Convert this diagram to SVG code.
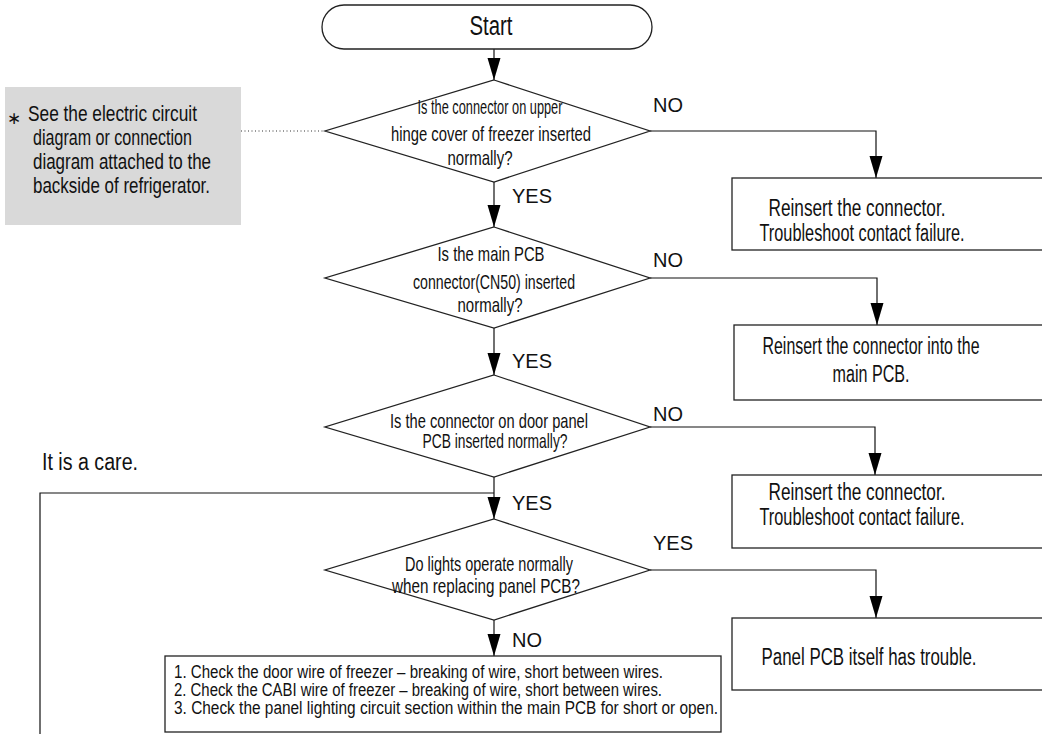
<svg xmlns="http://www.w3.org/2000/svg" width="1042" height="734" viewBox="0 0 1042 734">
<style>
.t{font-family:"Liberation Sans",Arial,sans-serif;fill:#111;}
.c{font-family:"Liberation Sans",Arial,sans-serif;fill:#111;text-anchor:middle;}
.lbl{font-family:"Liberation Sans",Arial,sans-serif;font-size:20px;fill:#111;}
.shape{fill:#fff;stroke:#222;stroke-width:1.3;}
.ln{fill:none;stroke:#111;stroke-width:1.2;}
</style>
<defs>
<marker id="ah" markerUnits="userSpaceOnUse" markerWidth="24" markerHeight="14" refX="22" refY="6.5" orient="auto">
<path d="M0,0 L22,6.5 L0,13 z" fill="#000"/>
</marker>
</defs>
<rect width="1042" height="734" fill="#fff"/>

<g id="note">
<rect x="5" y="87" width="236" height="138" fill="#d9d9d9"/>
<text class="t" x="7" y="124" font-size="17">∗</text>
<text class="t" x="28" y="121" font-size="22" textLength="169" lengthAdjust="spacingAndGlyphs">See the electric circuit</text>
<text class="t" x="33" y="145" font-size="22" textLength="159" lengthAdjust="spacingAndGlyphs">diagram or connection</text>
<text class="t" x="33" y="169" font-size="22" textLength="178" lengthAdjust="spacingAndGlyphs">diagram attached to the</text>
<text class="t" x="33" y="193" font-size="22" textLength="177" lengthAdjust="spacingAndGlyphs">backside of refrigerator.</text>
</g>

<g id="connectors">
<line class="ln" x1="494" y1="49" x2="494" y2="80" marker-end="url(#ah)"/>
<line class="ln" x1="494" y1="182" x2="494" y2="227" marker-end="url(#ah)"/>
<line class="ln" x1="494" y1="328" x2="494" y2="375" marker-end="url(#ah)"/>
<line class="ln" x1="494" y1="477" x2="494" y2="519" marker-end="url(#ah)"/>
<line class="ln" x1="494" y1="620" x2="494" y2="656" marker-end="url(#ah)"/>
<polyline class="ln" points="650,131 876,131 876,178" marker-end="url(#ah)"/>
<polyline class="ln" points="650,278 877,278 877,325" marker-end="url(#ah)"/>
<polyline class="ln" points="650,427 875,427 875,475" marker-end="url(#ah)"/>
<polyline class="ln" points="650,570 876,570 876,618" marker-end="url(#ah)"/>
<polyline class="ln" points="40,734 40,493 494,493"/>
<line x1="241" y1="131" x2="323" y2="131" stroke="#333" stroke-width="1" stroke-dasharray="1,2.5"/>
<text class="lbl" x="653" y="112">NO</text>
<text class="lbl" x="512" y="203">YES</text>
<text class="lbl" x="653" y="267">NO</text>
<text class="lbl" x="512" y="368">YES</text>
<text class="lbl" x="653" y="421">NO</text>
<text class="lbl" x="512" y="510">YES</text>
<text class="lbl" x="653" y="550">YES</text>
<text class="lbl" x="512" y="647">NO</text>
<text class="t" x="42" y="470" font-size="23" textLength="96" lengthAdjust="spacingAndGlyphs">It is a care.</text>
</g>

<g id="start">
<rect class="shape" x="322" y="5" width="330" height="44" rx="22" ry="22"/>
<text class="c" x="491" y="35" font-size="27" textLength="43" lengthAdjust="spacingAndGlyphs">Start</text>
</g>

<g id="d1">
<polygon class="shape" points="494,80 650,131 494,182 325,131"/>
<text class="c" x="490" y="114" font-size="21" textLength="145" lengthAdjust="spacingAndGlyphs">Is the connector on upper</text>
<text class="c" x="491" y="141" font-size="21" textLength="200" lengthAdjust="spacingAndGlyphs">hinge cover of freezer inserted</text>
<text class="c" x="480" y="165" font-size="21" textLength="65" lengthAdjust="spacingAndGlyphs">normally?</text>
</g>

<g id="box1">
<rect class="shape" x="732" y="178" width="330" height="72"/>
<text class="c" x="857" y="216" font-size="23" textLength="177" lengthAdjust="spacingAndGlyphs">Reinsert the connector.</text>
<text class="c" x="862" y="241" font-size="23" textLength="205" lengthAdjust="spacingAndGlyphs">Troubleshoot contact failure.</text>
</g>

<g id="d2">
<polygon class="shape" points="494,227 650,278 494,328 325,278"/>
<text class="c" x="491" y="261" font-size="21" textLength="107" lengthAdjust="spacingAndGlyphs">Is the main PCB</text>
<text class="c" x="494" y="289" font-size="21" textLength="162" lengthAdjust="spacingAndGlyphs">connector(CN50) inserted</text>
<text class="c" x="490" y="312" font-size="21" textLength="65" lengthAdjust="spacingAndGlyphs">normally?</text>
</g>

<g id="box2">
<rect class="shape" x="734" y="325" width="330" height="75"/>
<text class="c" x="871" y="354" font-size="23" textLength="217" lengthAdjust="spacingAndGlyphs">Reinsert the connector into the</text>
<text class="c" x="871" y="382" font-size="23" textLength="77" lengthAdjust="spacingAndGlyphs">main PCB.</text>
</g>

<g id="d3">
<polygon class="shape" points="494,375 650,427 494,477 325,427"/>
<text class="c" x="489" y="428" font-size="21" textLength="198" lengthAdjust="spacingAndGlyphs">Is the connector on door panel</text>
<text class="c" x="495" y="448" font-size="21" textLength="145" lengthAdjust="spacingAndGlyphs">PCB inserted normally?</text>
</g>

<g id="box3">
<rect class="shape" x="732" y="475" width="330" height="73"/>
<text class="c" x="857" y="500" font-size="23" textLength="177" lengthAdjust="spacingAndGlyphs">Reinsert the connector.</text>
<text class="c" x="862" y="525" font-size="23" textLength="205" lengthAdjust="spacingAndGlyphs">Troubleshoot contact failure.</text>
</g>

<g id="d4">
<polygon class="shape" points="494,519 650,570 494,620 325,570"/>
<text class="c" x="489" y="571" font-size="21" textLength="168" lengthAdjust="spacingAndGlyphs">Do lights operate normally</text>
<text class="c" x="486" y="593" font-size="21" textLength="188" lengthAdjust="spacingAndGlyphs">when replacing panel PCB?</text>
</g>

<g id="box4">
<rect class="shape" x="732" y="618" width="330" height="72"/>
<text class="c" x="869" y="665" font-size="23" textLength="215" lengthAdjust="spacingAndGlyphs">Panel PCB itself has trouble.</text>
</g>

<g id="box5">
<rect class="shape" x="165" y="656" width="556" height="76"/>
<text class="t" x="174" y="678" font-size="18" textLength="489" lengthAdjust="spacingAndGlyphs">1. Check the door wire of freezer – breaking of wire, short between wires.</text>
<text class="t" x="174" y="696" font-size="18" textLength="488" lengthAdjust="spacingAndGlyphs">2. Check the CABI wire of freezer – breaking of wire, short between wires.</text>
<text class="t" x="174" y="714" font-size="18" textLength="544" lengthAdjust="spacingAndGlyphs">3. Check the panel lighting circuit section within the main PCB for short or open.</text>
</g>
</svg>
